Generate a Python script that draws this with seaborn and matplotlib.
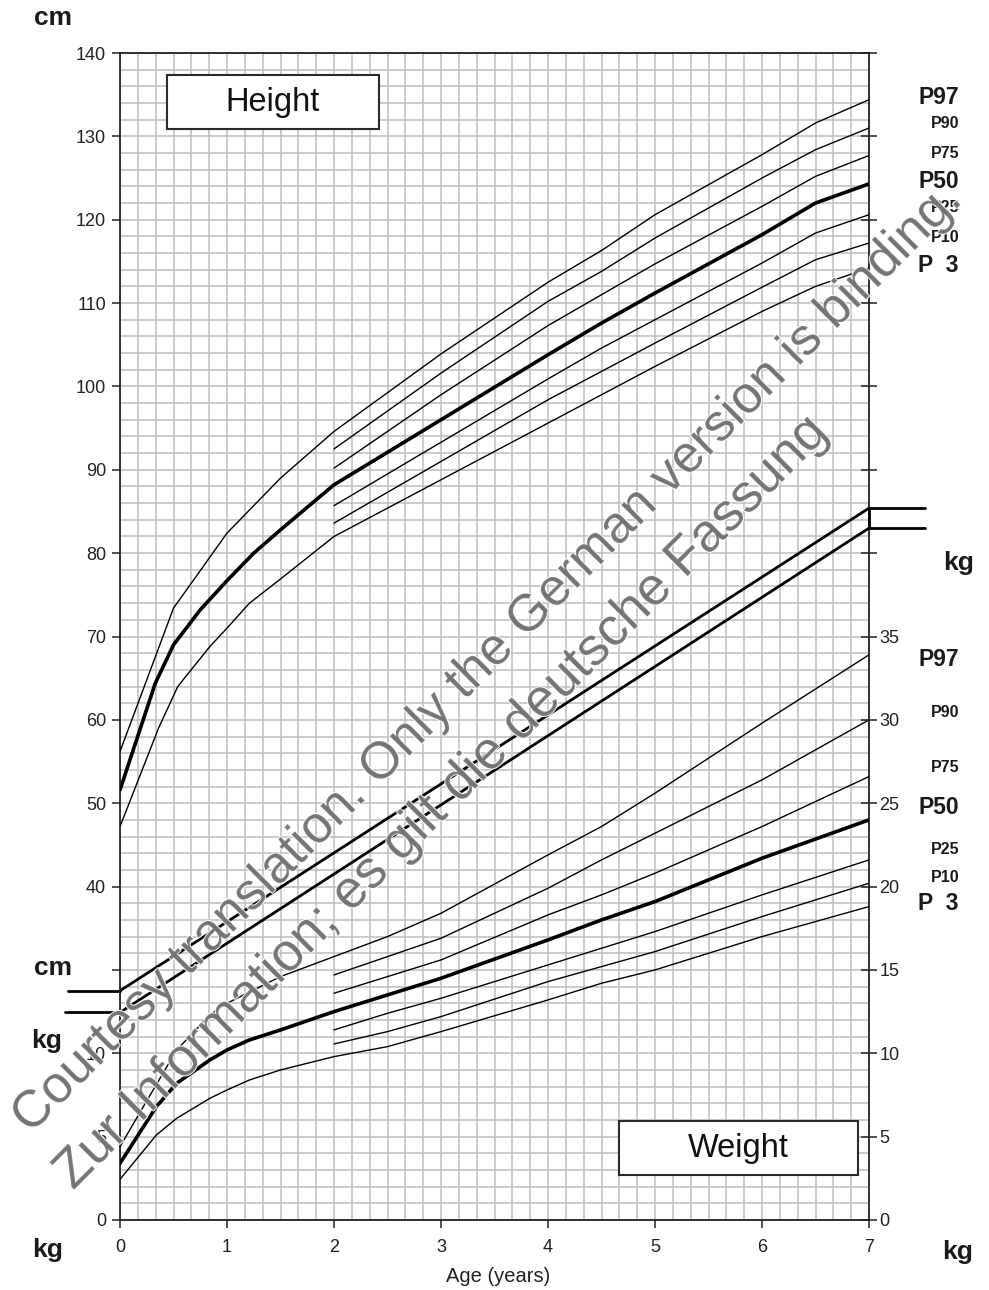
import numpy as np
import pandas as pd
import matplotlib
matplotlib.use("Agg")
import matplotlib.pyplot as plt
import matplotlib.patheffects as pe
import seaborn as sns
from matplotlib.patches import Rectangle
from matplotlib.ticker import FixedLocator, FixedFormatter

# ---------------- data ----------------
# Height (cm)
h_p97_age = [0, 0.5, 1, 1.5, 2, 3, 4, 4.5, 5, 6, 6.5, 7]
h_p97 = [56.2, 73.4, 82.4, 89.0, 94.6, 103.9, 112.5, 116.3, 120.6, 127.8, 131.6, 134.4]
h_p50_age = [0, 0.33, 0.5, 0.75, 1, 1.25, 1.5, 2, 3, 4, 4.5, 5, 6, 6.5, 7]
h_p50 = [51.6, 64.4, 69.0, 73.2, 76.7, 80.0, 82.8, 88.2, 96.0, 103.8, 107.6, 111.2, 118.2, 122.0, 124.3]
h_p3_age = [0, 0.36, 0.54, 0.84, 1, 1.21, 1.5, 2, 3, 4, 4.5, 5, 6, 6.5, 7]
h_p3 = [47.2, 59.0, 64.0, 68.8, 71.0, 74.0, 76.9, 82.0, 88.8, 95.6, 99.0, 102.4, 109.0, 112.0, 114.2]
h_mid_age = [2, 3, 4, 4.5, 5, 6, 6.5, 7]
h_p90 = [92.5, 101.6, 110.2, 113.8, 117.8, 125.0, 128.4, 131.0]
h_p75 = [90.2, 99.0, 107.3, 111.0, 114.7, 121.6, 125.2, 127.7]
h_p25 = [85.7, 93.3, 100.9, 104.6, 108.0, 114.8, 118.4, 120.6]
h_p10 = [83.6, 91.0, 98.4, 101.8, 105.2, 111.9, 115.2, 117.2]

# Weight (kg)
w_p97_age = [0, 0.2, 0.53, 0.84, 1, 1.5, 2, 2.5, 3, 4, 4.5, 5, 6, 7]
w_p97 = [4.4, 6.6, 10.2, 12.3, 13.0, 14.6, 15.8, 17.0, 18.4, 21.9, 23.6, 25.6, 29.8, 33.9]
w_p50_age = [0, 0.34, 0.53, 0.84, 1, 1.21, 1.5, 2, 2.5, 3, 4, 4.5, 5, 6, 7]
w_p50 = [3.4, 6.8, 8.2, 9.6, 10.2, 10.8, 11.4, 12.5, 13.5, 14.5, 16.8, 18.0, 19.1, 21.7, 24.0]
w_p3_age = [0, 0.34, 0.53, 0.84, 1, 1.21, 1.5, 2, 2.5, 3, 4, 4.5, 5, 6, 7]
w_p3 = [2.44, 5.1, 6.1, 7.3, 7.8, 8.4, 9.0, 9.8, 10.4, 11.3, 13.2, 14.2, 15.0, 17.0, 18.8]
w_mid_age = [2, 2.5, 3, 4, 4.5, 5, 6, 7]
w_p90 = [14.7, 15.8, 16.9, 19.9, 21.6, 23.2, 26.4, 30.0]
w_p75 = [13.6, 14.6, 15.6, 18.3, 19.5, 20.8, 23.6, 26.6]
w_p25 = [11.4, 12.4, 13.3, 15.3, 16.3, 17.3, 19.5, 21.6]
w_p10 = [10.56, 11.3, 12.2, 14.3, 15.2, 16.1, 18.2, 20.2]

# separating band (in cm-axis units)
band_age = [0, 7]
band_upper = [27.5, 85.4]
band_lower = [24.9, 83.0]

x_ticks = [0, 1, 2, 3, 4, 5, 6, 7]
left_tick_vals = list(range(0, 141, 10))
left_tick_labels = ["0", "5", "10", ""] + [str(v) for v in range(40, 141, 10)]
right_tick_labels = [str(v) for v in range(0, 36, 5)] + [""] * 7

percentile_labels = ["P97", "P90", "P75", "P50", "P25", "P10", "P  3"]
KG_SCALE = 2.0  # 1 kg occupies the same space as 2 cm

# ---------------- style ----------------
sns.set_theme(style="white")
plt.rcParams["font.family"] = ["Liberation Sans", "DejaVu Sans"]

W, H = 989, 1290
fig = plt.figure(figsize=(W / 100, H / 100), dpi=100)
L, R, T, B = 120, 869, 53, 1220
ax = fig.add_axes([L / W, 1 - B / H, (R - L) / W, (B - T) / H])
ax.set_xlim(0, 7)
ax.set_ylim(0, 140)

# grid
ax.set_xticks(np.arange(0, 7.001, 1 / 6), minor=True)
ax.set_yticks(np.arange(0, 140.001, 2), minor=True)
ax.grid(which="both", color="#bdbdbd", linewidth=1.1, zorder=0)
ax.set_axisbelow(True)

# ticks
ax.xaxis.set_major_locator(FixedLocator(x_ticks))
ax.xaxis.set_major_formatter(FixedFormatter([str(v) for v in x_ticks]))
ax.yaxis.set_major_locator(FixedLocator(left_tick_vals))
ax.yaxis.set_major_formatter(FixedFormatter(left_tick_labels))
ax.tick_params(which="minor", length=0)
ax.tick_params(which="major", direction="out", length=6, width=1.1, color="#222222",
               labelsize=13, labelcolor="#222222", pad=4, bottom=True, left=True)
ax.tick_params(axis="x", pad=8)

for s in ax.spines.values():
    s.set_color("#222222")
    s.set_linewidth(1.3)

ax2 = ax.twinx()
ax2.set_ylim(0, 140)
ax2.yaxis.set_major_locator(FixedLocator(left_tick_vals))
ax2.yaxis.set_major_formatter(FixedFormatter(right_tick_labels))
ax2.tick_params(axis="y", direction="inout", length=11, width=1.1, color="#222222",
                labelsize=13, labelcolor="#222222", pad=2)
ax2.grid(False)
for s in ax2.spines.values():
    s.set_visible(False)

# ---------------- curves ----------------
def curve(ages, vals, lw):
    sns.lineplot(x=ages, y=vals, ax=ax, color="black", linewidth=lw, zorder=3,
                 estimator=None, sort=False)

thin, thick = 1.0, 2.6
curve(h_p97_age, h_p97, thin)
curve(h_p50_age, h_p50, thick)
curve(h_p3_age, h_p3, thin)
for v in (h_p90, h_p75, h_p25, h_p10):
    curve(h_mid_age, v, thin)

ws = lambda v: [x * KG_SCALE for x in v]
curve(w_p97_age, ws(w_p97), thin)
curve(w_p50_age, ws(w_p50), thick)
curve(w_p3_age, ws(w_p3), thin)
for v in (w_p90, w_p75, w_p25, w_p10):
    curve(w_mid_age, ws(v), thin)

# band between height and weight parts
bandlw = 2.0
ax.plot(band_age, band_upper, color="black", lw=bandlw, zorder=3, solid_capstyle="butt")
ax.plot(band_age, band_lower, color="black", lw=bandlw, zorder=3, solid_capstyle="butt")
yr_px = (R - L) / 7
ax.plot([-(120 - 68) / yr_px, 0], [band_upper[0]] * 2, color="black", lw=bandlw, clip_on=False)
ax.plot([-(120 - 65) / yr_px, 0], [band_lower[0]] * 2, color="black", lw=bandlw, clip_on=False)
ax.plot([7, 7 + (925 - 869) / yr_px], [band_upper[1]] * 2, color="black", lw=bandlw, clip_on=False)
ax.plot([7, 7 + (925 - 869) / yr_px], [band_lower[1]] * 2, color="black", lw=bandlw, clip_on=False)
ax.plot([7, 7], [band_lower[1], band_upper[1]], color="black", lw=bandlw, clip_on=False, zorder=4)

ax.set_xlabel("")
ax.set_ylabel("")

# ---------------- texts ----------------
def ftext(x, y, s, **kw):
    return fig.text(x / W, 1 - y / H, s, **kw)

bold = dict(fontweight="bold", color="#1a1a1a", ha="center", va="center")
ftext(53, 18, "cm", fontsize=19, **bold)
ftext(53, 968, "cm", fontsize=19, **bold)
ftext(47, 1041, "kg", fontsize=19, **bold)
ftext(48, 1250, "kg", fontsize=19, **bold)
ftext(958, 1252, "kg", fontsize=19, **bold)
ftext(959, 563, "kg", fontsize=19, **bold)

ftext(498, 1277, "Age (years)", fontsize=14.5, color="#222222", ha="center", va="center")

big = {"P97", "P50", "P  3"}
h_label_y = [97, 124, 153, 182, 208, 237, 265]
w_label_y = [660, 712, 767, 808, 849, 877, 903]
for lab, y1, y2 in zip(percentile_labels, h_label_y, w_label_y):
    fs = 16.5 if lab in big else 11.5
    for yy in (y1, y2):
        ftext(959, yy, lab, fontsize=fs, fontweight="bold", color="#1a1a1a",
              ha="right", va="center")

# title boxes
def box(x0, y0, x1, y1, label):
    fig.patches.append(Rectangle((x0 / W, 1 - y1 / H), (x1 - x0) / W, (y1 - y0) / H,
                                 transform=fig.transFigure, facecolor="white",
                                 edgecolor="#2a2a2a", linewidth=1.5, zorder=2))
    ftext((x0 + x1) / 2, (y0 + y1) / 2 + 1, label, fontsize=23.5, color="#111111",
          ha="center", va="center", zorder=3)

box(167, 75, 379, 129, "Height")
box(619, 1121, 858, 1175, "Weight")

# watermark
wm = dict(color="#737373", alpha=0.9, ha="center", va="center",
          rotation=45, rotation_mode="anchor", zorder=6,
          path_effects=[pe.withStroke(linewidth=1.5, foreground="white")])
ftext(488, 658, "Courtesy translation. Only the German version is binding.", fontsize=37.5, **wm)
ftext(442, 802, "Zur Information; es gilt die deutsche Fassung", fontsize=38.5, **wm)

fig.savefig("out.png", dpi=100)
